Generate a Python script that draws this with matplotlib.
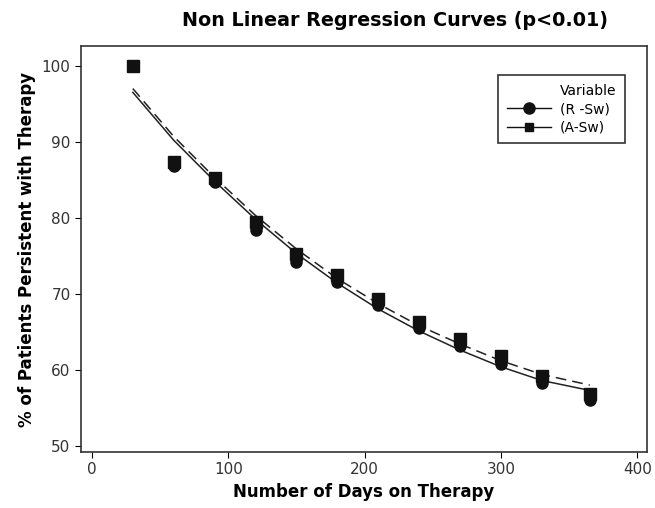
import matplotlib
matplotlib.use("Agg")
import matplotlib.pyplot as plt
from matplotlib.lines import Line2D

# days on therapy
days = [30, 60, 90, 120, 150, 180, 210, 240, 270, 300, 330, 365]

# observed persistence (%)
r_sw = [100, 86.8, 84.7, 78.4, 74.2, 71.5, 68.5, 65.5, 63.2, 60.8, 58.3, 56.0]
a_sw = [100, 87.4, 85.3, 79.4, 75.3, 72.5, 69.3, 66.3, 64.1, 61.8, 59.2, 56.8]

# fitted regression curves read at the same days
r_fit = [96.5, 90.2, 84.8, 79.8, 75.3, 71.4, 68.0, 65.1, 62.6, 60.4, 58.6, 57.3]
a_fit = [97.0, 90.7, 85.3, 80.3, 75.9, 72.0, 68.7, 65.8, 63.4, 61.2, 59.4, 58.0]

x_ticks = [0, 100, 200, 300, 400]
y_ticks = [50, 60, 70, 80, 90, 100]

fig = plt.figure(figsize=(6.55, 5.08), dpi=100)
ax = fig.add_axes([81 / 655, 1 - 452 / 508, 566 / 655, 406 / 508])

ax.plot(days, r_fit, color="#222222", lw=1.1, ls="-")
ax.plot(days, a_fit, color="#222222", lw=1.1, ls=(0, (7, 4)))
ax.plot(days, a_sw, ls="none", marker="s", ms=8, color="#111111")
ax.plot(days, r_sw, ls="none", marker="o", ms=8, color="#111111")

# legend: blank first row carries the "Variable" heading
handles = [
    Line2D([], [], color="none"),
    Line2D([], [], color="#111111", lw=1, marker="o", ms=8),
    Line2D([], [], color="#111111", lw=1, marker="s", ms=6),
]
labels = ["Variable", "(R -Sw)", "(A-Sw)"]
leg = ax.legend(handles, labels, loc="upper left",
                bbox_to_anchor=(417 / 566, 1 - 29 / 406), fancybox=False,
                edgecolor="black", fontsize=10, handlelength=3.2,
                borderpad=0.65, labelspacing=0.3, handletextpad=0.6,
                borderaxespad=0)
leg.get_frame().set_linewidth(1.2)

ax.set_xlim(-8, 407)
ax.set_ylim(49.2, 102.6)
ax.set_xticks(x_ticks)
ax.set_yticks(y_ticks)
ax.tick_params(labelsize=11, direction="out", length=4, top=False, right=False,
               labelcolor="#333333")
for s in ax.spines.values():
    s.set_linewidth(1.2)
    s.set_color("#333333")

ax.set_xlabel("Number of Days on Therapy", fontsize=12, fontweight="bold")
ax.set_ylabel("% of Patients Persistent with Therapy", fontsize=12, fontweight="bold")
fig.text(395 / 655, 1 - 20 / 508, "Non Linear Regression Curves (p<0.01)",
         ha="center", va="center", fontsize=13.8, fontweight="bold")

fig.savefig("out.png", dpi=100)
